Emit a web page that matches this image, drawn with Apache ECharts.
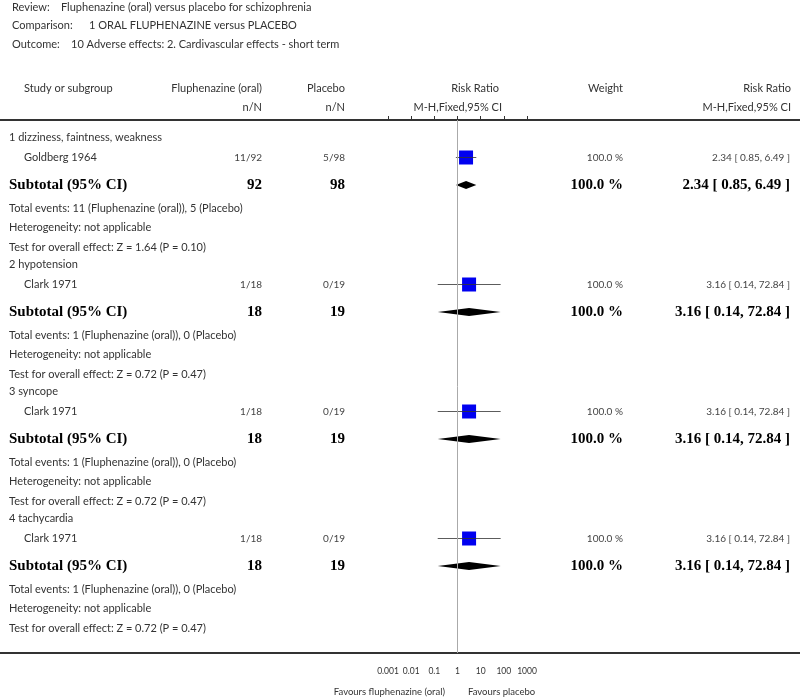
<!DOCTYPE html>
<html>
<head>
<meta charset="utf-8">
<script src="https://cdn.jsdelivr.net/npm/echarts@6/dist/echarts.min.js"></script>
<style>html,body{margin:0;padding:0;background:#fff;}#c{width:800px;height:697px;}</style>
</head>
<body>
<div id="c"></div>
<script>
// ---- data ----
const reviewTitle = 'Fluphenazine (oral) versus placebo for schizophrenia';
const comparisonTitle = '1 ORAL FLUPHENAZINE versus PLACEBO';
const outcomeTitle = '10 Adverse effects: 2. Cardivascular effects - short term';
const groups = ['1 dizziness, faintness, weakness', '2 hypotension', '3 syncope', '4 tachycardia'];
const studies = ['Goldberg 1964', 'Clark 1971', 'Clark 1971', 'Clark 1971'];
const fluEvents = [11, 1, 1, 1];
const fluTotal = [92, 18, 18, 18];
const plaEvents = [5, 0, 0, 0];
const plaTotal = [98, 19, 19, 19];
const studyRR = [2.34, 3.16, 3.16, 3.16];
const studyLo = [0.85, 0.14, 0.14, 0.14];
const studyHi = [6.49, 72.84, 72.84, 72.84];
const studyWeight = [100.0, 100.0, 100.0, 100.0];
const subRR = [2.34, 3.16, 3.16, 3.16];
const subLo = [0.85, 0.14, 0.14, 0.14];
const subHi = [6.49, 72.84, 72.84, 72.84];
const zValues = ['1.64', '0.72', '0.72', '0.72'];
const pValues = ['0.10', '0.47', '0.47', '0.47'];
const tickLabels = ['0.001', '0.01', '0.1', '1', '10', '100', '1000'];
const favoursLeft = 'Favours fluphenazine (oral)';
const favoursRight = 'Favours placebo';

// ---- layout ----
const SANS = 'Lato, "Open Sans", sans-serif';
const SERIF = '"Liberation Serif", "DejaVu Serif", serif';
const TXT = '#333';
const rowStep = {group: 20.5, study: 27.5, subtotal: 23, total: 19.5, het: 19.5, test: 17};
const rows = [];
groups.forEach((g, i) => {
  ['group', 'study', 'subtotal', 'total', 'het', 'test'].forEach(k => rows.push({kind: k, i: i}));
});
let yy = 17;
rows.forEach(r => { r.y = yy; yy += rowStep[r.kind]; });

function t(x, y, s, o) {
  o = o || {};
  return {
    type: 'text',
    style: {
      x: x, y: y, text: s,
      align: o.align || 'left', verticalAlign: 'middle',
      fontFamily: o.serif ? SERIF : SANS,
      fontWeight: o.bold ? 'bold' : 'normal',
      fontSize: o.size || 11,
      fill: o.color || TXT
    }
  };
}
const f2 = v => v.toFixed(2);
const ciText = (r, l, h) => f2(r) + ' [ ' + f2(l) + ', ' + f2(h) + ' ]';

const chart = echarts.init(document.getElementById('c'), null, {renderer: 'canvas'});

const studyData = studies.map((s, i) => [studyRR[i], studyLo[i], studyHi[i], rows.find(r => r.kind === 'study' && r.i === i).y, studyWeight[i]]);
const subData = groups.map((g, i) => [subRR[i], subLo[i], subHi[i], rows.find(r => r.kind === 'subtotal' && r.i === i).y]);
const rowData = rows.map((r, k) => [1, r.y, k]);

const option = {
  animation: false,
  backgroundColor: '#fff',
  grid: {left: 388, width: 139, top: 120, bottom: 44},
  xAxis: {
    type: 'log', logBase: 10, min: 0.001, max: 1000, splitNumber: 6,
    axisLine: {show: true, lineStyle: {color: '#333', width: 2}},
    axisTick: {show: true, inside: true, length: 4, lineStyle: {color: '#333', width: 1}},
    splitLine: {show: false},
    axisLabel: {
      margin: 14, fontSize: 8.5, fontFamily: SANS, color: TXT,
      formatter: v => tickLabels[Math.round(Math.log10(v)) + 3]
    }
  },
  yAxis: {type: 'value', inverse: true, min: 0, max: 533, show: false},
  graphic: [
    {type: 'line', shape: {x1: 0, y1: 653, x2: 800, y2: 653}, style: {stroke: '#333', lineWidth: 2}, z: 1},
    {type: 'line', shape: {x1: 0, y1: 120, x2: 800, y2: 120}, style: {stroke: '#333', lineWidth: 2}},
    t(12, 7, 'Review:'), t(61, 7, reviewTitle),
    t(12, 25, 'Comparison:'), t(89, 25, comparisonTitle),
    t(12, 44, 'Outcome:'), t(71, 44, outcomeTitle),
    t(24, 88, 'Study or subgroup'),
    t(262, 88, 'Fluphenazine (oral)', {align: 'right'}),
    t(345, 88, 'Placebo', {align: 'right'}),
    t(499, 88, 'Risk Ratio', {align: 'right'}),
    t(623, 88, 'Weight', {align: 'right'}),
    t(791, 88, 'Risk Ratio', {align: 'right'}),
    t(262, 107, 'n/N', {align: 'right'}),
    t(345, 107, 'n/N', {align: 'right'}),
    t(502, 107, 'M-H,Fixed,95% CI', {align: 'right'}),
    t(791, 107, 'M-H,Fixed,95% CI', {align: 'right'}),
    t(445, 692, favoursLeft, {align: 'right', size: 9.5}),
    t(468, 692, favoursRight, {size: 9.5})
  ],
  series: [
    {
      type: 'custom', name: 'rows', clip: false, silent: true,
      data: rowData,
      encode: {x: 0, y: 1},
      renderItem: function (params, api) {
        const r = rows[api.value(2)];
        const y = api.coord([1, api.value(1)])[1];
        const i = r.i;
        let ch = [];
        if (r.kind === 'group') ch = [t(9, y, groups[i])];
        else if (r.kind === 'study') ch = [
          t(24, y, studies[i]),
          t(262, y, fluEvents[i] + '/' + fluTotal[i], {align: 'right', size: 10, color: '#444'}),
          t(345, y, plaEvents[i] + '/' + plaTotal[i], {align: 'right', size: 10, color: '#444'}),
          t(623, y, studyWeight[i].toFixed(1) + ' %', {align: 'right', size: 10, color: '#444'}),
          t(790, y, ciText(studyRR[i], studyLo[i], studyHi[i]), {align: 'right', size: 10, color: '#444'})
        ];
        else if (r.kind === 'subtotal') ch = [
          t(9, y, 'Subtotal (95% CI)', {serif: true, bold: true, size: 15, color: '#000'}),
          t(262, y, String(fluTotal[i]), {align: 'right', serif: true, bold: true, size: 15, color: '#000'}),
          t(345, y, String(plaTotal[i]), {align: 'right', serif: true, bold: true, size: 15, color: '#000'}),
          t(623, y, '100.0 %', {align: 'right', serif: true, bold: true, size: 15, color: '#000'}),
          t(790, y, ciText(subRR[i], subLo[i], subHi[i]), {align: 'right', serif: true, bold: true, size: 15, color: '#000'})
        ];
        else if (r.kind === 'total') ch = [t(9, y, 'Total events: ' + fluEvents[i] + ' (Fluphenazine (oral)), ' + plaEvents[i] + ' (Placebo)')];
        else if (r.kind === 'het') ch = [t(9, y, 'Heterogeneity: not applicable')];
        else ch = [t(9, y, 'Test for overall effect: Z = ' + zValues[i] + ' (P = ' + pValues[i] + ')')];
        return {type: 'group', children: ch};
      }
    },
    {
      type: 'custom', name: 'studies', clip: false,
      data: studyData,
      encode: {x: 0, y: 3},
      renderItem: function (params, api) {
        const c = api.coord([api.value(0), api.value(3)]);
        const l = api.coord([api.value(1), api.value(3)]);
        const h = api.coord([api.value(2), api.value(3)]);
        const s = 14 * Math.sqrt(api.value(4) / 100);
        return {type: 'group', children: [
          {type: 'rect', shape: {x: c[0] - s / 2, y: c[1] - s / 2, width: s, height: s}, style: {fill: '#0000f0'}},
          {type: 'line', shape: {x1: l[0], y1: c[1], x2: h[0], y2: c[1]}, style: {stroke: '#333', lineWidth: 1, opacity: 0.8}}
        ]};
      },
      markLine: {
        silent: true, symbol: ['none', 'none'], label: {show: false},
        lineStyle: {color: '#aaa', width: 1, type: 'solid'},
        data: [{xAxis: 1}]
      }
    },
    {
      type: 'custom', name: 'subtotals', clip: false,
      data: subData,
      encode: {x: 0, y: 3},
      renderItem: function (params, api) {
        const c = api.coord([api.value(0), api.value(3)]);
        const l = api.coord([api.value(1), api.value(3)]);
        const h = api.coord([api.value(2), api.value(3)]);
        return {type: 'polygon', shape: {points: [[l[0], c[1]], [c[0], c[1] - 4], [h[0], c[1]], [c[0], c[1] + 4]]}, style: {fill: '#000'}};
      }
    }
  ]
};
chart.setOption(option);
</script>
</body>
</html>
